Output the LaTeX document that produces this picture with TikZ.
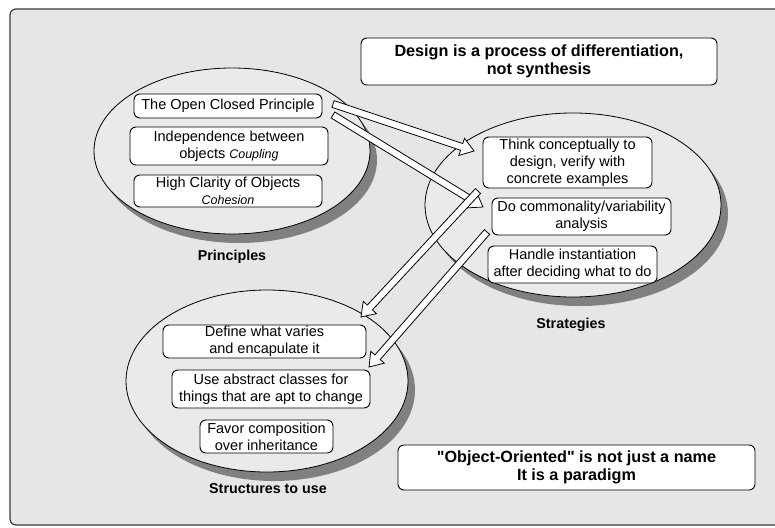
\documentclass[tikz,border=0pt]{standalone}
\usepackage{fontspec}
\setmainfont{Liberation Sans}
\usetikzlibrary{calc,shapes.geometric,shadows}

\definecolor{panel}{HTML}{E6E6E6}
\definecolor{cloudfill}{HTML}{EAEAEA}
\definecolor{framegray}{HTML}{3C3C3C}
\definecolor{shadowgray}{HTML}{808080}

\newcommand\itemfont{\fontsize{14.5}{17}\selectfont}
\newcommand\notefont{\fontsize{12.5}{15}\selectfont\itshape}
\newcommand\headfont{\fontsize{16.2}{18.5}\selectfont\bfseries}
\newcommand\captionfont{\fontsize{14.3}{17}\selectfont\bfseries}

\tikzset{
  cloud/.style={ellipse, draw=black, line width=0.8pt, fill=cloudfill, inner sep=0pt,
    general shadow={fill=shadowgray, shadow xshift=7pt, shadow yshift=-9pt}},
  itembox/.style={draw=black, line width=0.9pt, fill=white, rounded corners=6pt,
    align=center, inner sep=1pt, font=\itemfont},
  headbox/.style={itembox, font=\headfont},
  caption/.style={anchor=base, font=\captionfont},
  blockarrow/.style={draw=black, line width=0.8pt, fill=white, line join=miter},
}

% hollow block arrow from tail centre #1 to tip #2
\newcommand\hollowarrow[2]{%
  \path ($(#2)!13pt!(#1)$) coordinate (#2-base);
  \draw[blockarrow]
    ($(#1)!3.5pt!90:(#2)$) -- ($(#2-base)!3.5pt!90:(#2)$) --
    ($(#2-base)!9pt!90:(#2)$) -- (#2) -- ($(#2-base)!9pt!-90:(#2)$) --
    ($(#2-base)!3.5pt!-90:(#2)$) -- ($(#1)!3.5pt!-90:(#2)$) -- cycle;}

\begin{document}
\begin{tikzpicture}[x=1pt,y=-1pt]
  \useasboundingbox (0,0) rectangle (775,527);
  \fill[white] (0,0) rectangle (775,527);

  % panel
  \begin{scope}
    \clip (0,0) rectangle (775,527);
    \draw[framegray, fill=panel, line width=1.2pt, rounded corners=6pt]
      (10,9) rectangle (800,525);
  \end{scope}

  % the three groups
  \node[cloud, minimum width=276pt, minimum height=166pt] (prin) at (232,151) {};
  \node[cloud, minimum width=296pt, minimum height=184pt] (strat) at (573,205) {};
  \node[cloud, minimum width=282pt, minimum height=182pt] (struct) at (267,381) {};

  \node[caption] (prinlabel) at (232,260) {Principles};
  \node[caption] (stratlabel) at (571,328) {Strategies};
  \node[caption] (structlabel) at (268,493) {Structures to use};

  % principles
  \node[itembox, minimum width=188pt, minimum height=24pt] (ocp) at (228,106)
    {The Open Closed Principle};
  \node[itembox, minimum width=198pt, minimum height=38pt] (coupling) at (229,146)
    {Independence between\\objects {\notefont Coupling}};
  \node[itembox, minimum width=188pt, minimum height=32pt] (cohesion) at (228,191)
    {High Clarity of Objects\\{\notefont Cohesion}};

  % strategies
  \node[itembox, minimum width=169pt, minimum height=51pt] (think) at (567.5,162.5)
    {Think conceptually to\\design, verify with\\concrete examples};
  \node[itembox, minimum width=179pt, minimum height=37pt] (cva) at (581.5,216.5)
    {Do commonality/variability\\analysis};
  \node[itembox, minimum width=169pt, minimum height=37pt] (inst) at (572.5,264.5)
    {Handle instantiation\\after deciding what to do};

  % structures
  \node[itembox, minimum width=203pt, minimum height=33pt] (varies) at (264.5,341.5)
    {Define what varies\\and encapulate it};
  \node[itembox, minimum width=198pt, minimum height=38pt] (abstract) at (271,389)
    {Use abstract classes for\\things that are apt to change};
  \node[itembox, minimum width=133pt, minimum height=33pt] (compose) at (266.5,436.5)
    {Favor composition\\over inheritance};

  % statements
  \node[headbox, minimum width=356pt, minimum height=47pt] (design) at (539,61.5)
    {Design is a process of differentiation,\\not synthesis};
  \node[headbox, minimum width=357pt, minimum height=45pt] (paradigm) at (576.5,467.5)
    {\textquotedbl Object-Oriented\textquotedbl\ is not just a name\\It is a paradigm};

  % arrow ends
  \coordinate (a1s) at (333,104);  \coordinate (a1e) at (474,151);
  \coordinate (a2s) at (333,115);  \coordinate (a2e) at (483,207);
  \coordinate (a3s) at (478,191);  \coordinate (a3e) at (361,317);
  \coordinate (a4s) at (487,232);  \coordinate (a4e) at (369,367);

  \hollowarrow{a1s}{a1e}
  \hollowarrow{a2s}{a2e}
  \hollowarrow{a3s}{a3e}
  \hollowarrow{a4s}{a4e}
\end{tikzpicture}
\end{document}
